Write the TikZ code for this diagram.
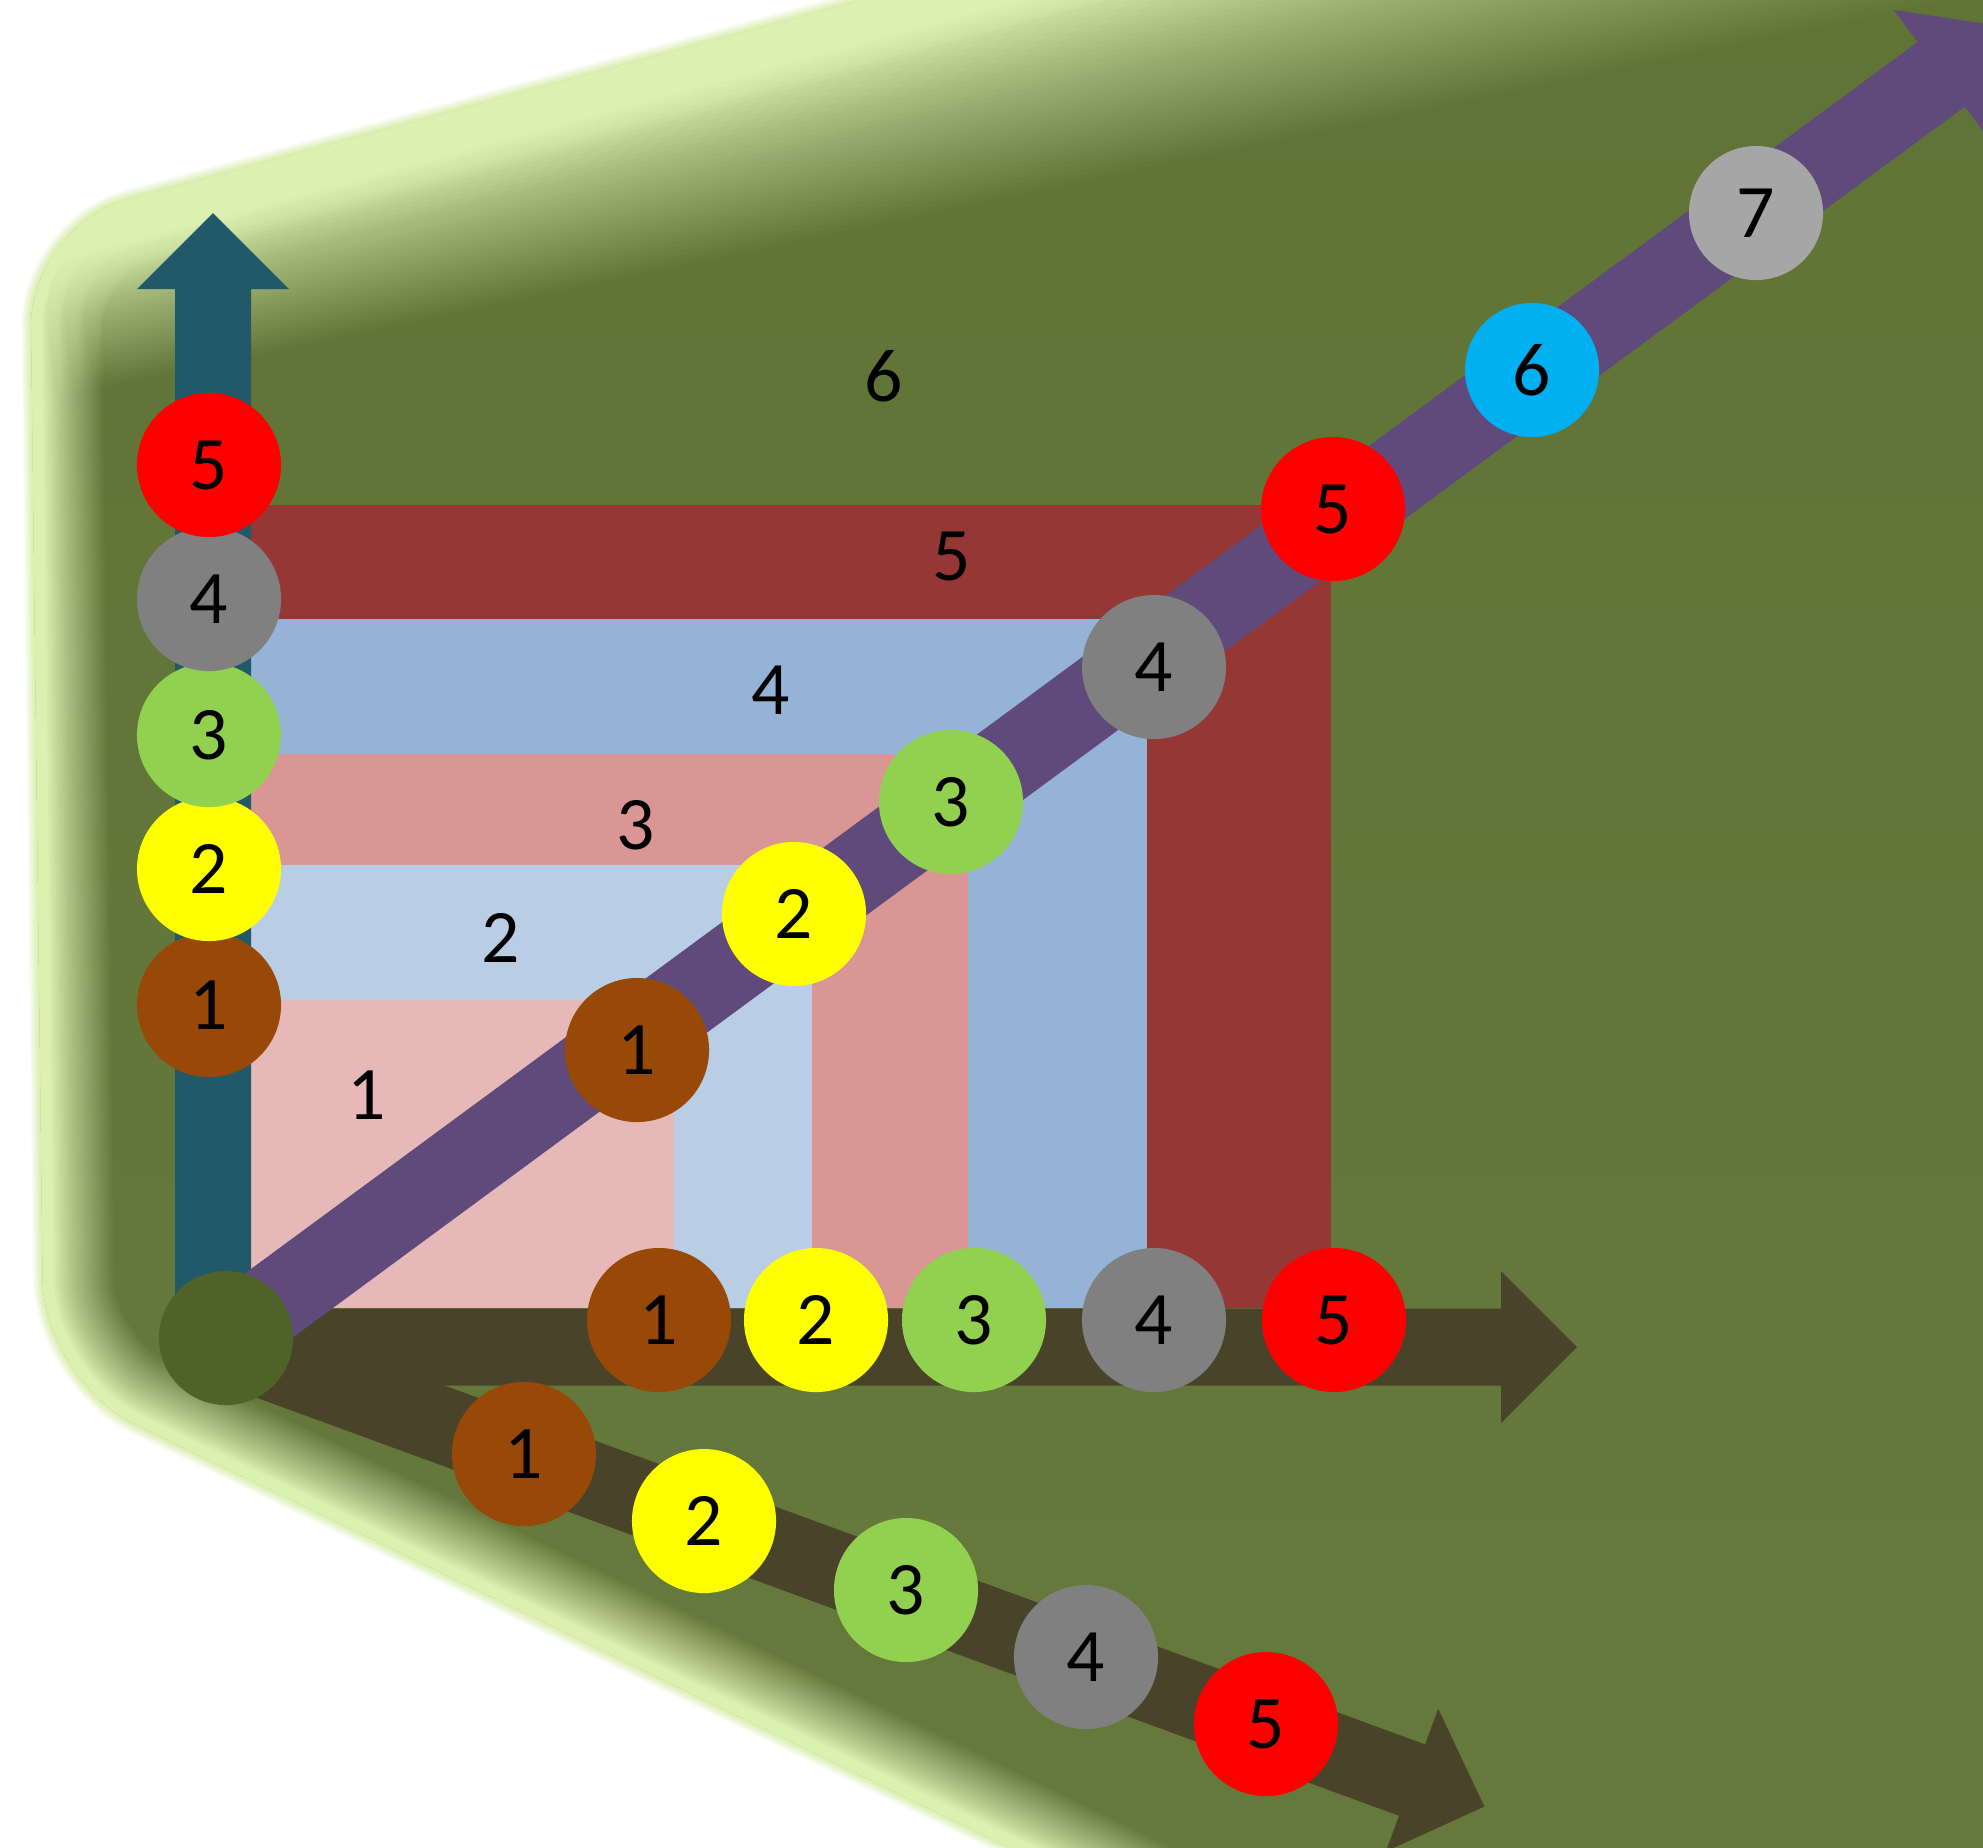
\documentclass[tikz,border=0pt]{standalone}
\usepackage{fontspec}
\setmainfont{Carlito}
\definecolor{bgA}{HTML}{5F7335}
\definecolor{bgB}{HTML}{687B3F}
\definecolor{glowc}{HTML}{DCF1B1}
\definecolor{rfive}{HTML}{953735}
\definecolor{rfour}{HTML}{95B3D7}
\definecolor{rthree}{HTML}{D99694}
\definecolor{rtwo}{HTML}{B9CDE5}
\definecolor{rone}{HTML}{E6B9B8}
\definecolor{axteal}{HTML}{215968}
\definecolor{axpurple}{HTML}{604A7B}
\definecolor{axbrown}{HTML}{494429}
\definecolor{cbrown}{HTML}{984807}
\definecolor{cyellow}{HTML}{FFFF00}
\definecolor{cgreen}{HTML}{92D050}
\definecolor{cgray}{HTML}{808080}
\definecolor{cred}{HTML}{FF0000}
\definecolor{cblue}{HTML}{00B0F0}
\definecolor{clgray}{HTML}{A6A6A6}
\definecolor{corigin}{HTML}{4F6228}
\begin{document}
\begin{tikzpicture}[x=0.01cm,y=-0.01cm,
  numc/.style={circle, inner sep=0pt, minimum size=1.44cm, font=\fontsize{21.5}{26}\selectfont, text=black},
  numcs/.style={numc, minimum size=1.34cm},
  lbl/.style={inner sep=0pt, font=\fontsize{21.5}{26}\selectfont, text=black}]
\useasboundingbox (0,0) rectangle (1983,1847);
\clip (0,0) rectangle (1983,1847);
\fill[white] (0,0) rectangle (1983,1847);
\def\glowpath{(37,800) [rounded corners=1cm] -- (30,226) -- (2130,-344) -- (2065,2358) -- (44,1380) -- cycle}
% outer soft edge
\foreach \m in {1,...,10}{
  \pgfmathsetmacro\lw{2*(11-\m)*0.01}
  \pgfmathsetmacro\al{1/(11-\m)}
  \draw[glowc, line width=\lw cm, opacity=\al, line join=round] \glowpath;
}
\shade[top color=bgA, bottom color=bgB] \glowpath;
\begin{scope}
  \clip \glowpath;
  % soft inner edge all round
  \foreach \m in {1,...,28}{
    \pgfmathsetmacro\f{1-(\m-0.5)/28}
    \pgfmathsetmacro\lw{2*(10+62*\f)*0.01}
    \pgfmathsetmacro\al{1/(29-\m)}
    \draw[glowc, line width=\lw cm, opacity=\al, line join=round] \glowpath;
  }
  % wider soft edge along the top
  \foreach \m in {1,...,36}{
    \pgfmathsetmacro\f{1-(\m-0.5)/36}
    \pgfmathsetmacro\ya{234.1+1.035*(40+130*\f)}
    \pgfmathsetmacro\yb{-308.7+1.035*(40+250*\f)}
    \pgfmathsetmacro\al{1/(37-\m)}
    \fill[glowc, opacity=\al] (0,34) -- (2000,-509) -- (2000,\yb) -- (0,\ya) -- cycle;
  }
\end{scope}
% nested rectangles
\fill[rfive] (251,505) rectangle (1331,1308);
\fill[rfour] (251,619) rectangle (1147,1308);
\fill[rthree] (251,754) rectangle (968,1308);
\fill[rtwo] (251,865) rectangle (812,1308);
\fill[rone] (251,1000) rectangle (674,1308);
% origin
\coordinate (O) at (226,1337);
\coordinate (Oh) at (226,1346);
% vertical axis arrow
\fill[axteal] (175,1338) -- (175,289) -- (137,289) -- (213,213) -- (289,289) -- (251,289) -- (251,1338) -- cycle;
% horizontal axis arrow
\fill[axbrown] (226,1308.5) -- (1501,1308.5) -- (1501,1271) -- (1577,1347) -- (1501,1423) -- (1501,1385.5) -- (226,1385.5) -- cycle;
% lower diagonal arrow
\begin{scope}[shift={(Oh)}, rotate=-20.1]
  \fill[axbrown] (0,-38) -- (1263,-38) -- (1263,-76) -- (1340,0) -- (1263,76) -- (1263,38) -- (0,38) -- cycle;
\end{scope}
% diagonal arrow
\begin{scope}[shift={(O)}, rotate=36.36]
  \fill[axpurple] (0,-40) -- (2130,-40) -- (2130,-80) -- (2210,0) -- (2130,80) -- (2130,40) -- (0,40) -- cycle;
\end{scope}
\node[numcs, fill=corigin] (o) at (226,1338) {};
% vertical circles
\node[numc, fill=cbrown] (v1) at (209,1005) {1};
\node[numc, fill=cyellow] (v2) at (209,869) {2};
\node[numc, fill=cgreen] (v3) at (209,735) {3};
\node[numc, fill=cgray] (v4) at (209,599) {4};
\node[numc, fill=cred] (v5) at (209,465) {5};
% diagonal circles
\node[numc, fill=cbrown] (d1) at (637,1050) {1};
\node[numc, fill=cyellow] (d2) at (794,914) {2};
\node[numc, fill=cgreen] (d3) at (951,802) {3};
\node[numc, fill=cgray] (d4) at (1154,667) {4};
\node[numc, fill=cred] (d5) at (1333,509) {5};
\node[numcs, fill=cblue] (d6) at (1532,370) {6};
\node[numcs, fill=clgray] (d7) at (1756,213) {7};
% horizontal circles
\node[numc, fill=cbrown] (h1) at (659,1320) {1};
\node[numc, fill=cyellow] (h2) at (816,1320) {2};
\node[numc, fill=cgreen] (h3) at (974,1320) {3};
\node[numc, fill=cgray] (h4) at (1154,1320) {4};
\node[numc, fill=cred] (h5) at (1334,1320) {5};
% lower diagonal circles
\node[numc, fill=cbrown] (b1) at (524,1454) {1};
\node[numc, fill=cyellow] (b2) at (704,1521) {2};
\node[numc, fill=cgreen] (b3) at (906,1590) {3};
\node[numc, fill=cgray] (b4) at (1086,1657) {4};
\node[numc, fill=cred] (b5) at (1266,1724) {5};
% region labels
\node[lbl] (t1) at (367,1095) {1};
\node[lbl] (t2) at (501,938) {2};
\node[lbl] (t3) at (636,825) {3};
\node[lbl] (t4) at (771,690) {4};
\node[lbl] (t5) at (952,556) {5};
\node[lbl] (t6) at (884,376) {6};
\end{tikzpicture}
\end{document}
